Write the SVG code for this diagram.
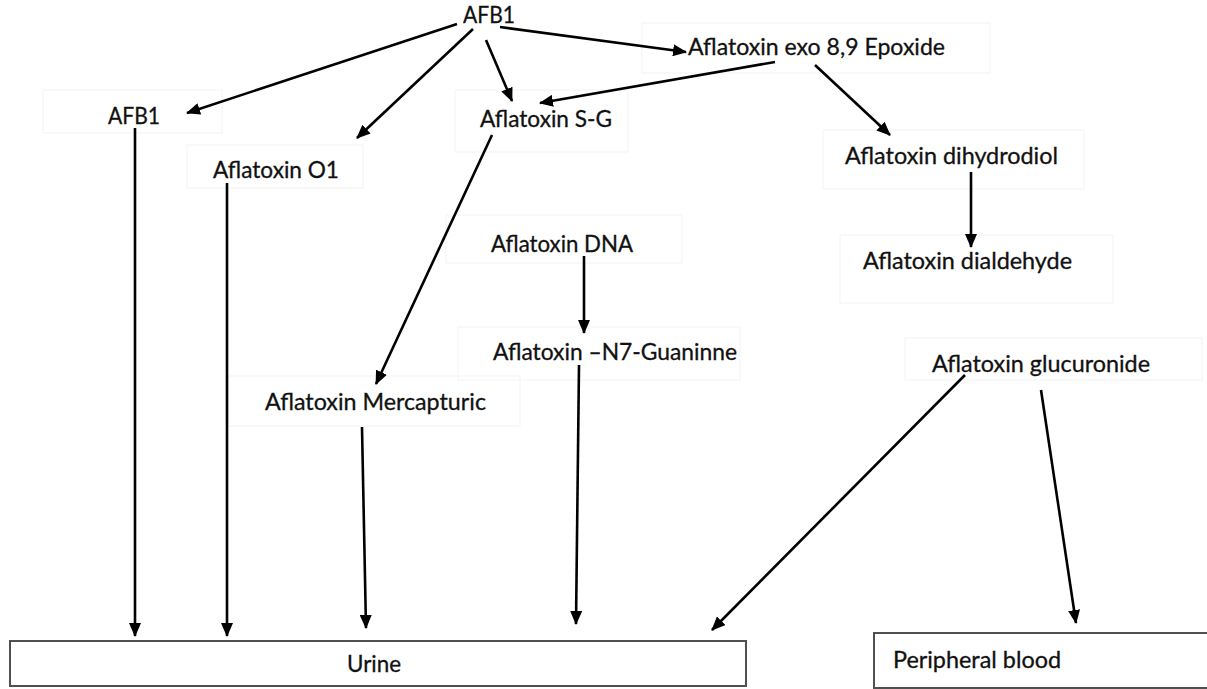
<svg xmlns="http://www.w3.org/2000/svg" width="1207" height="689" viewBox="0 0 1207 689">
  <style>
    .lbl { font-family: Lato, "Open Sans", "Liberation Sans", sans-serif; font-size: 22.5px; fill: #111111; stroke: #111111; stroke-width: 0.3; }
    .frame { fill: none; stroke: #f3f3f3; stroke-width: 1; }
    .box { fill: #ffffff; stroke: #505050; stroke-width: 2; }
    .edge { fill: none; stroke: #000000; stroke-width: 2.6; marker-end: url(#head); }
  </style>
  <defs>
    <marker id="head" markerUnits="userSpaceOnUse" markerWidth="14" markerHeight="12" refX="13" refY="6" orient="auto">
      <path d="M0,0 L14,6 L0,12 z" fill="#000000"/>
    </marker>
  </defs>
  <rect x="0" y="0" width="1207" height="689" fill="#ffffff"/>

  <!-- metabolite nodes -->
  <g id="afb1-top">
    <text class="lbl" x="463" y="23" textLength="52" lengthAdjust="spacingAndGlyphs">AFB1</text>
  </g>
  <g id="epoxide">
    <rect class="frame" x="642" y="23" width="348" height="50"/>
    <text class="lbl" x="688" y="55" textLength="257" lengthAdjust="spacingAndGlyphs">Aflatoxin exo 8,9 Epoxide</text>
  </g>
  <g id="afb1-left">
    <rect class="frame" x="43" y="90" width="179" height="43"/>
    <text class="lbl" x="108" y="124" textLength="52" lengthAdjust="spacingAndGlyphs">AFB1</text>
  </g>
  <g id="aflatoxin-sg">
    <rect class="frame" x="455" y="90" width="173" height="62"/>
    <text class="lbl" x="480" y="127" textLength="132" lengthAdjust="spacingAndGlyphs">Aflatoxin S-G</text>
  </g>
  <g id="aflatoxin-o1">
    <rect class="frame" x="187" y="145" width="176" height="43"/>
    <text class="lbl" x="213" y="178" textLength="126" lengthAdjust="spacingAndGlyphs">Aflatoxin O1</text>
  </g>
  <g id="dihydrodiol">
    <rect class="frame" x="823" y="130" width="261" height="59"/>
    <text class="lbl" x="845" y="164" textLength="213" lengthAdjust="spacingAndGlyphs">Aflatoxin dihydrodiol</text>
  </g>
  <g id="dialdehyde">
    <rect class="frame" x="840" y="235" width="273" height="68"/>
    <text class="lbl" x="863" y="269" textLength="209" lengthAdjust="spacingAndGlyphs">Aflatoxin dialdehyde</text>
  </g>
  <g id="aflatoxin-dna">
    <rect class="frame" x="446" y="215" width="236" height="48"/>
    <text class="lbl" x="491" y="252" textLength="142" lengthAdjust="spacingAndGlyphs">Aflatoxin DNA</text>
  </g>
  <g id="n7-guanine">
    <rect class="frame" x="458" y="327" width="282" height="53"/>
    <text class="lbl" x="493" y="360" textLength="244" lengthAdjust="spacingAndGlyphs">Aflatoxin –N7-Guaninne</text>
  </g>
  <g id="mercapturic">
    <rect class="frame" x="228" y="376" width="292" height="50"/>
    <text class="lbl" x="265" y="410" textLength="221" lengthAdjust="spacingAndGlyphs">Aflatoxin Mercapturic</text>
  </g>
  <g id="glucuronide">
    <rect class="frame" x="905" y="338" width="297" height="42"/>
    <text class="lbl" x="932" y="372" textLength="218" lengthAdjust="spacingAndGlyphs">Aflatoxin glucuronide</text>
  </g>

  <!-- excretion compartments -->
  <g id="urine">
    <rect class="box" x="10" y="641" width="736" height="45"/>
    <text class="lbl" x="374" y="672" text-anchor="middle" textLength="54" lengthAdjust="spacingAndGlyphs">Urine</text>
  </g>
  <g id="peripheral-blood">
    <rect class="box" x="874" y="633" width="360" height="55"/>
    <text class="lbl" x="893" y="668" textLength="168" lengthAdjust="spacingAndGlyphs">Peripheral blood</text>
  </g>

  <!-- pathway arrows -->
  <g id="connectors">
    <line class="edge" x1="457" y1="24" x2="187" y2="113"/>
    <line class="edge" x1="473" y1="29" x2="357" y2="138"/>
    <line class="edge" x1="486" y1="40" x2="512" y2="101"/>
    <line class="edge" x1="500" y1="27" x2="686" y2="52"/>
    <line class="edge" x1="775" y1="62" x2="540" y2="103"/>
    <line class="edge" x1="815" y1="65" x2="890" y2="135"/>
    <line class="edge" x1="135" y1="128" x2="135" y2="636"/>
    <line class="edge" x1="227" y1="183" x2="227" y2="636"/>
    <line class="edge" x1="492" y1="135" x2="376" y2="384"/>
    <line class="edge" x1="362" y1="427" x2="366" y2="628"/>
    <line class="edge" x1="584" y1="256" x2="584" y2="333"/>
    <line class="edge" x1="579" y1="365" x2="576" y2="624"/>
    <line class="edge" x1="971" y1="172" x2="971" y2="247"/>
    <line class="edge" x1="965" y1="375" x2="712" y2="630"/>
    <line class="edge" x1="1041" y1="390" x2="1076" y2="623"/>
  </g>
</svg>
